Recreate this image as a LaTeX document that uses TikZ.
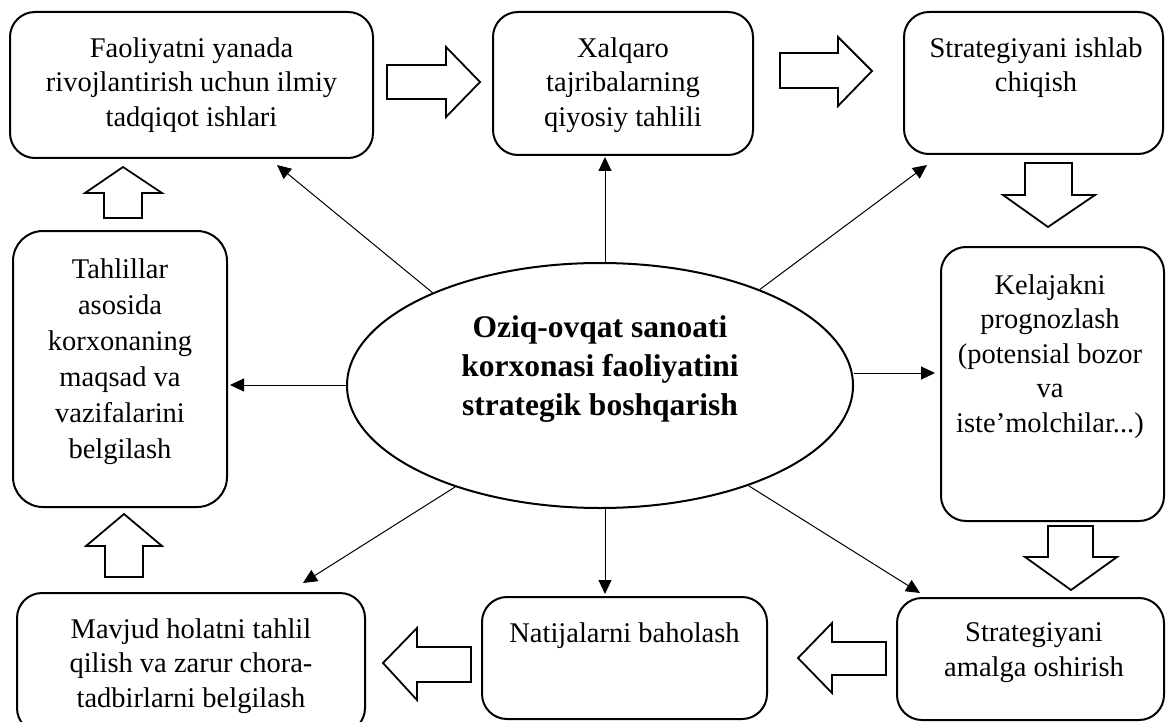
\documentclass[tikz,border=0pt]{standalone}
\usepackage{fontspec}
\setmainfont{Liberation Serif}
\usetikzlibrary{arrows.meta,shapes.geometric}
\begin{document}
\begin{tikzpicture}[x=1pt,y=-1pt,
  box/.style={draw,line width=2pt,rounded corners=25pt,inner sep=0pt},
  txt/.style={anchor=north,align=center,inner sep=0pt,font=\fontsize{28.5}{34.5}\selectfont},
  conn/.style={line width=1pt,-{Triangle[length=14pt,width=13pt]}},
  blk/.style={draw,line width=1.8pt,fill=white,line join=miter}]
\useasboundingbox (0,0) rectangle (1166,722);
\fill[white] (0,0) rectangle (1166,722);
\clip (0,0) rectangle (1166,722);

% boxes
\node[box,minimum width=363pt,minimum height=146pt] (b1) at (191.5,85) {};
\node[box,minimum width=260pt,minimum height=143pt] (b2) at (623,83.5) {};
\node[box,minimum width=259pt,minimum height=142pt] (b3) at (1033.5,83) {};
\node[box,minimum width=223pt,minimum height=274pt] (b4) at (1052.5,384) {};
\node[box,minimum width=267pt,minimum height=122pt] (b5) at (1030.5,659) {};
\node[box,minimum width=285pt,minimum height=122pt] (b6) at (624.5,658) {};
\node[box,minimum width=348pt,minimum height=140pt] (b7) at (191,663) {};
\node[box,rounded corners=30pt,minimum width=214pt,minimum height=276pt] (b8) at (120,369) {};

% texts
\node[txt] (b1t) at (191.5,37.5) {Faoliyatni yanada\\rivojlantirish uchun ilmiy\\tadqiqot ishlari};
\node[txt] (b2t) at (623,37.5) {Xalqaro\\tajribalarning\\qiyosiy tahlili};
\node[txt] (b3t) at (1036,37.5) {Strategiyani ishlab\\chiqish};
\node[txt] (b4t) at (1050,274.5) {Kelajakni\\prognozlash\\(potensial bozor\\va\\iste’molchilar...)};
\node[txt] (b5t) at (1034,622.5) {Strategiyani\\amalga oshirish};
\node[txt] (b6t) at (624.5,622.5) {Natijalarni baholash};
\node[txt] (b7t) at (191,618.5) {Mavjud holatni tahlil\\qilish va zarur chora-\\tadbirlarni belgilash};
\node[txt,font=\fontsize{28.5}{36}\selectfont] (b8t) at (120,258.5) {Tahlillar\\asosida\\korxonaning\\maqsad va\\vazifalarini\\belgilash};

% centre ellipse
\node[draw,ellipse,line width=2pt,minimum width=506pt,minimum height=245pt,inner sep=0pt] (c) at (600,385.5) {};
\node[anchor=north,align=center,inner sep=0pt,font=\bfseries\fontsize{31.5}{39}\selectfont] (ct) at (600,315) {Oziq-ovqat sanoati\\korxonasi faoliyatini\\strategik boshqarish};

% thin connectors
\coordinate (t1) at (277,165);
\coordinate (t2) at (605,157);
\coordinate (t3) at (927,165);
\coordinate (t4) at (230,385);
\coordinate (t5) at (935,373);
\coordinate (t6) at (303,583);
\coordinate (t7) at (605,594);
\coordinate (t8) at (920,593);
\draw[conn] (c.151) -- (t1);
\draw[conn] (c.north -| t2) -- (t2);
\draw[conn] (c.31) -- (t3);
\draw[conn] (c.west |- t4) -- (t4);
\draw[conn] (c.east |- t5) -- (t5);
\draw[conn] (c.215) -- (t6);
\draw[conn] (c.south -| t7) -- (t7);
\draw[conn] (c.326) -- (t8);

% block arrows
\draw[blk] (387,65) -- (446,65) -- (446,47) -- (480,82) -- (446,117) -- (446,99) -- (387,99) -- cycle;
\draw[blk] (780,53) -- (838,53) -- (838,37) -- (872,71) -- (838,106) -- (838,88) -- (780,88) -- cycle;
\draw[blk] (1025,163) -- (1072,163) -- (1072,195) -- (1095,195) -- (1048,227) -- (1003,195) -- (1025,195) -- cycle;
\draw[blk] (1048,526) -- (1093,526) -- (1093,557) -- (1117,557) -- (1071,590) -- (1025,557) -- (1048,557) -- cycle;
\draw[blk] (886,642) -- (832,642) -- (832,623) -- (798,658) -- (832,693) -- (832,675) -- (886,675) -- cycle;
\draw[blk] (471,647) -- (417,647) -- (417,628) -- (383,663) -- (417,700) -- (417,682) -- (471,682) -- cycle;
\draw[blk] (105,577) -- (105,546) -- (86,546) -- (124,514) -- (162,546) -- (143,546) -- (143,577) -- cycle;
\draw[blk] (104,218) -- (104,193) -- (85,193) -- (123,167) -- (162,193) -- (142,193) -- (142,218) -- cycle;
\end{tikzpicture}
\end{document}
